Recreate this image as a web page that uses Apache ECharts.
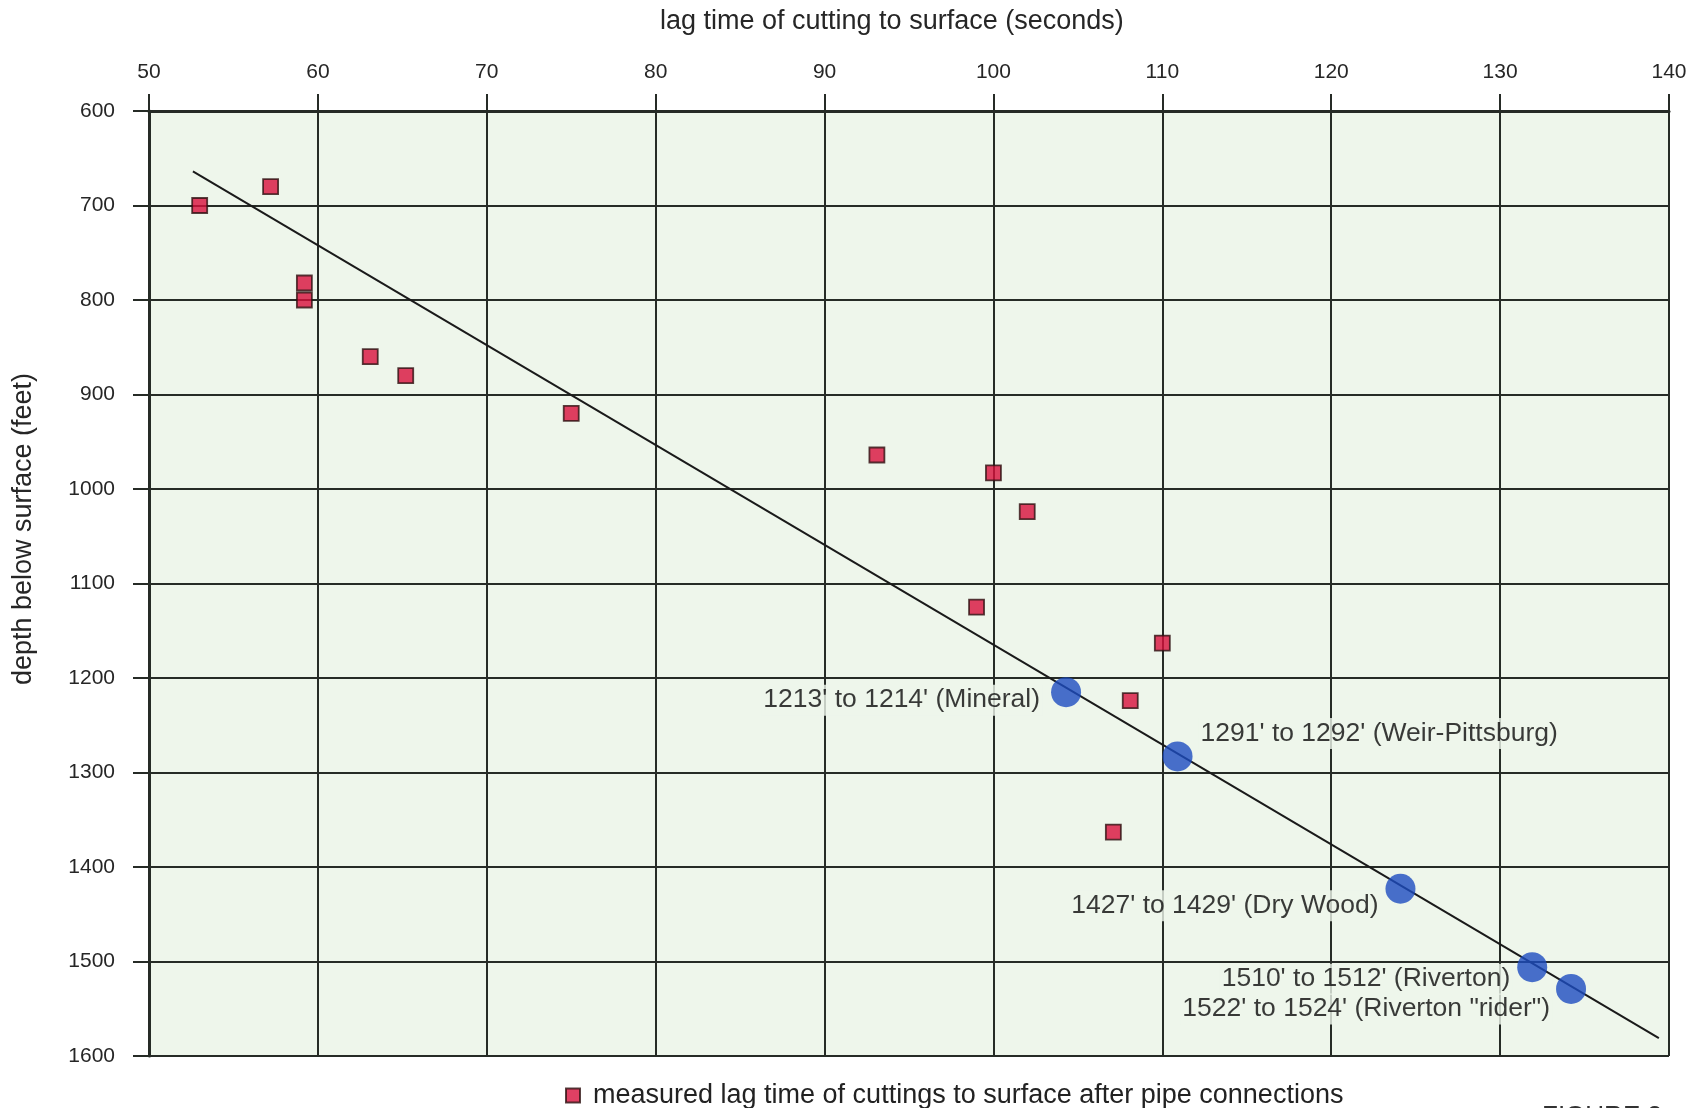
<!DOCTYPE html>
<html>
<head>
<meta charset="utf-8">
<script src="https://cdn.jsdelivr.net/npm/echarts/dist/echarts.min.js"></script>
<style>
  html, body { margin: 0; padding: 0; background: #ffffff; }
  #chart { width: 1693px; height: 1108px; }
</style>
</head>
<body>
<div id="chart"></div>
<script>
// ---- data ----
const xTitle = 'lag time of cutting to surface (seconds)';
const yTitle = 'depth below surface (feet)';
const legendLabel = 'measured lag time of cuttings to surface after pipe connections';
const figureLabel = 'FIGURE 3';

const xMin = 50, xMax = 140, xStep = 10;
const yMin = 600, yMax = 1600, yStep = 100;

// measured lag time after pipe connections (red squares)
const measuredLag   = [53.0, 57.2, 59.2, 59.2, 63.1, 65.2, 75.0, 93.1, 100.0, 102.0, 99.0, 110.0, 108.1, 107.1];
const measuredDepth = [700, 680, 782, 800, 860, 880, 920, 964, 983, 1024, 1125, 1163, 1224, 1363];

// coal zones on the trend line (blue circles)
const zoneLag   = [104.3, 110.9, 124.1, 131.9, 134.2];
const zoneDepth = [1215, 1283, 1423, 1506, 1529];
const zoneNames = [
  "1213' to 1214' (Mineral)",
  "1291' to 1292' (Weir-Pittsburg)",
  "1427' to 1429' (Dry Wood)",
  "1510' to 1512' (Riverton)",
  "1522' to 1524' (Riverton \"rider\")"
];

// trend line end points
const trendLag   = [52.6, 139.4];
const trendDepth = [664, 1581];

// ---- styling (not data) ----
const FONT = '"Liberation Sans", Arial, Helvetica, sans-serif';
const plotBg = '#eef6eb';
const gridColor = '#262b26';
const zoneLabelLayout = [
  { position: 'left',  distance: 9,  dy: 8 },
  { position: 'right', distance: 6,  dy: -23 },
  { position: 'left',  distance: 5,  dy: 17 },
  { position: 'left',  distance: 5,  dy: 12 },
  { position: 'left',  distance: 4,  dy: 20 }
];

const measuredData = measuredLag.map((x, i) => [x, measuredDepth[i]]);
const trendData = trendLag.map((x, i) => [x, trendDepth[i]]);
const zoneData = zoneLag.map((x, i) => ({
  name: zoneNames[i],
  value: [x, zoneDepth[i]],
  label: {
    position: zoneLabelLayout[i].position,
    distance: zoneLabelLayout[i].distance,
    offset: [0, zoneLabelLayout[i].dy]
  }
}));

const chart = echarts.init(document.getElementById('chart'), null, { renderer: 'canvas' });

chart.setOption({
  animation: false,
  backgroundColor: '#ffffff',
  textStyle: { fontFamily: FONT },
  grid: {
    left: 149, right: 24, top: 111, bottom: 52,
    show: true, backgroundColor: plotBg, borderWidth: 0
  },
  legend: {
    show: true,
    data: [{ name: legendLabel, icon: 'rect' }],
    left: 560, top: 1077,
    itemWidth: 14, itemHeight: 14,
    textStyle: { fontSize: 27, color: '#222222', fontFamily: FONT, padding: [0, 0, 0, 8] },
    selectedMode: false
  },
  graphic: [
    {
      type: 'text', x: 660, y: 22,
      style: { text: xTitle, font: '27px ' + FONT, fill: '#262626', align: 'left', verticalAlign: 'middle' }
    },
    {
      type: 'text',
      x: 24, y: 529,
      rotation: Math.PI / 2,
      style: { text: yTitle, font: '27px ' + FONT, fill: '#262626', align: 'center', verticalAlign: 'middle' }
    },
    {
      type: 'text', x: 1542, y: 1104,
      style: { text: figureLabel, font: '26px ' + FONT, fill: '#333333', align: 'left', verticalAlign: 'top' }
    }
  ],
  xAxis: {
    type: 'value',
    position: 'top',
    min: xMin, max: xMax, interval: xStep,
    axisLine: { show: true, onZero: false, lineStyle: { color: gridColor, width: 3 } },
    axisTick: { show: true, length: 17, lineStyle: { color: gridColor, width: 2 } },
    axisLabel: { fontSize: 21, color: '#262626', margin: 28, fontFamily: FONT, formatter: v => String(v) },
    splitLine: { show: true, lineStyle: { color: gridColor, width: 2 } }
  },
  yAxis: {
    type: 'value',
    inverse: true,
    min: yMin, max: yMax, interval: yStep,
    axisLine: { show: true, onZero: false, lineStyle: { color: gridColor, width: 3 } },
    axisTick: { show: true, length: 16, lineStyle: { color: gridColor, width: 2 } },
    axisLabel: { fontSize: 21, color: '#262626', margin: 34, fontFamily: FONT, formatter: v => String(v) },
    splitLine: { show: true, lineStyle: { color: gridColor, width: 2 } }
  },
  series: [
    {
      name: 'trend',
      type: 'line',
      data: trendData,
      symbol: 'none',
      silent: true,
      lineStyle: { color: '#1a1a1a', width: 2 },
      z: 3
    },
    {
      name: legendLabel,
      type: 'scatter',
      data: measuredData,
      symbol: 'rect',
      symbolSize: 15,
      itemStyle: { color: '#d8103c', borderColor: '#2e1212', borderWidth: 1.8 },
      z: 4
    },
    {
      name: 'zones',
      type: 'scatter',
      data: zoneData,
      symbol: 'circle',
      symbolSize: 30,
      itemStyle: { color: '#1d4cc0' },
      label: {
        show: true,
        formatter: '{b}',
        fontSize: 26.5,
        color: '#0a0a0a',
        fontFamily: FONT,
        backgroundColor: plotBg,
        padding: [2, 2]
      },
      z: 5
    }
  ]
});
</script>
</body>
</html>
